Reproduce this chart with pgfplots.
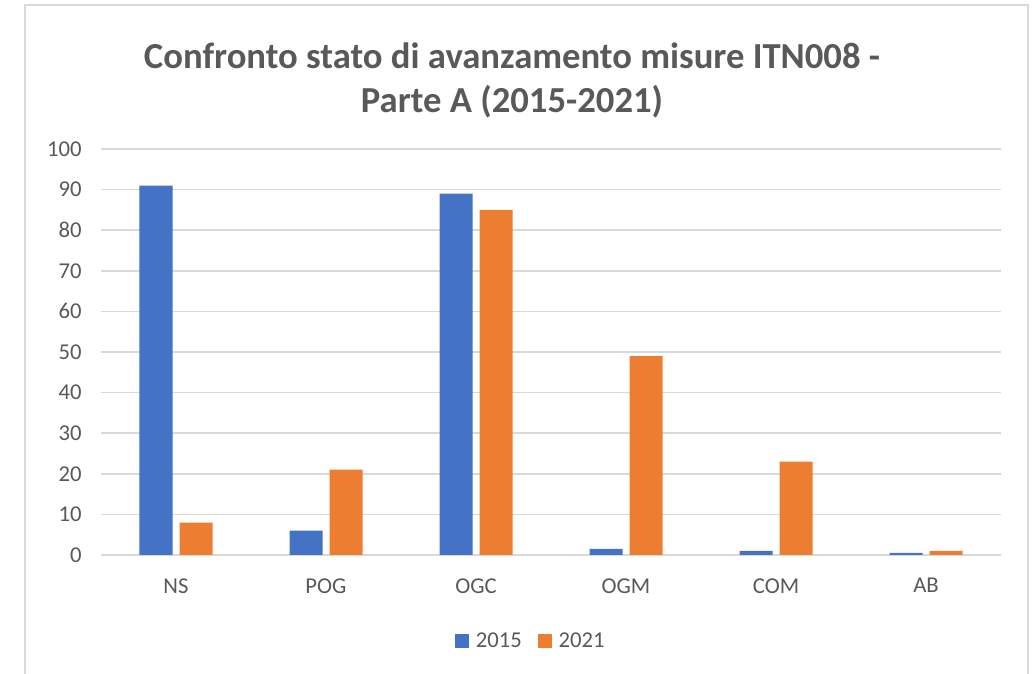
\documentclass[border=0pt]{standalone}
\usepackage{pgfplots}
\pgfplotsset{compat=1.18}
\usepackage{fontspec}
\setmainfont{Carlito}
\usepackage{xcolor}

\definecolor{blu}{HTML}{4472C4}
\definecolor{arancio}{HTML}{ED7D31}
\definecolor{testo}{HTML}{595959}
\definecolor{griglia}{HTML}{D9D9D9}

\begin{document}
\begin{tikzpicture}[x=0.75pt, y=0.75pt]
    % area dell'immagine (1036 x 674 px) e cornice del grafico
    \path[use as bounding box] (0,0) rectangle (1036,674);
    \draw[griglia, line width=1.5pt] (25,-10) -- (25,669) -- (1028,669) -- (1028,-10);

    % titolo
    \node[align=center, font=\fontsize{27.5}{33}\selectfont\bfseries, text=testo]
        at (512,594) {Confronto stato di avanzamento misure ITN008 -\\Parte A (2015-2021)};

    \begin{axis}[
        at={(75.75pt,89.25pt)}, anchor=south west,
        scale only axis,
        width=675pt, height=304.5pt,
        ybar=5.25pt,
        bar width=24.75pt,
        xmin=-0.5, xmax=5.5,
        ymin=0, ymax=100,
        ytick distance=10,
        xtick=data,
        xticklabels={NS, POG, OGC, OGM, COM, AB},
        axis line style={draw=none},
        major tick length=0pt,
        ymajorgrids=true,
        grid style={griglia, line width=1.2pt},
        tick label style={font=\fontsize{17}{20}\selectfont, text=testo},
        /pgf/number format/assume math mode=true,
        yticklabel style={xshift=-11pt},
        xticklabel style={yshift=-14pt},
        legend columns=2,
        legend style={
            at={(0.478,-0.212)}, anchor=center,
            draw=none, fill=none,
            font=\fontsize{17}{20}\selectfont, text=testo,
            /tikz/every odd column/.append style={column sep=3pt},
            /tikz/every even column/.append style={column sep=10pt},
        },
        legend image code/.code={
            \fill[#1] (0pt,-5.25pt) rectangle (10.5pt,5.25pt);
        },
    ]
    % 2015
    \addplot[fill=blu, draw=none] coordinates {
        (0,91) (1,6) (2,89) (3,1.5) (4,1) (5,0.5)
    };
    \addlegendentry{2015}
    % 2021
    \addplot[fill=arancio, draw=none] coordinates {
        (0,8) (1,21) (2,85) (3,49) (4,23) (5,1)
    };
    \addlegendentry{2021}
    \end{axis}
\end{tikzpicture}
\end{document}
